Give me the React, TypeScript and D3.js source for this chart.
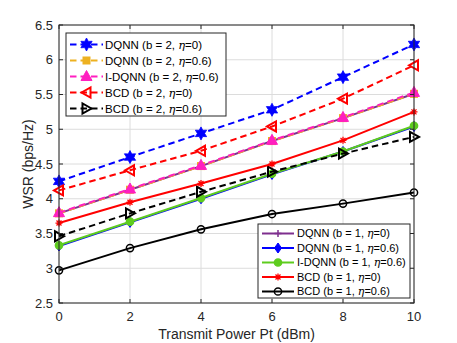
import React from "react";
import * as d3 from "d3";

const xVals = [0, 2, 4, 6, 8, 10];
const dqnnB2E0 = [4.25, 4.6, 4.94, 5.28, 5.75, 6.22];
const dqnnB2E06 = [3.79, 4.13, 4.47, 4.83, 5.16, 5.51];
const idqnnB2E06 = [3.8, 4.14, 4.48, 4.84, 5.17, 5.53];
const bcdB2E0 = [4.12, 4.41, 4.69, 5.04, 5.44, 5.92];
const bcdB2E06 = [3.46, 3.79, 4.1, 4.39, 4.65, 4.89];
const dqnnB1E0 = [3.79, 4.13, 4.47, 4.83, 5.16, 5.51];
const dqnnB1E06 = [3.32, 3.66, 4.0, 4.35, 4.68, 5.04];
const idqnnB1E06 = [3.33, 3.67, 4.01, 4.36, 4.68, 5.05];
const bcdB1E0 = [3.65, 3.95, 4.22, 4.5, 4.84, 5.25];
const bcdB1E06 = [2.97, 3.29, 3.56, 3.78, 3.93, 4.09];

const xTicks = [0, 2, 4, 6, 8, 10];
const yTicks = [2.5, 3, 3.5, 4, 4.5, 5, 5.5, 6, 6.5];

type Marker = "hex" | "square" | "triUp" | "triLeft" | "triRight" | "plus" | "diamond" | "circle" | "asterisk";

interface Series {
  name: string;
  b: number;
  eta: string;
  values: number[];
  color: string;
  dashed: boolean;
  marker: Marker;
  fill: boolean;
}

const legend1: Series[] = [
  { name: "DQNN", b: 2, eta: "0", values: dqnnB2E0, color: "#0000ff", dashed: true, marker: "hex", fill: true },
  { name: "DQNN", b: 2, eta: "0.6", values: dqnnB2E06, color: "#edb120", dashed: true, marker: "square", fill: true },
  { name: "I-DQNN", b: 2, eta: "0.6", values: idqnnB2E06, color: "#ff1fc0", dashed: true, marker: "triUp", fill: true },
  { name: "BCD", b: 2, eta: "0", values: bcdB2E0, color: "#ff0000", dashed: true, marker: "triLeft", fill: false },
  { name: "BCD", b: 2, eta: "0.6", values: bcdB2E06, color: "#000000", dashed: true, marker: "triRight", fill: false },
];
const legend2: Series[] = [
  { name: "DQNN", b: 1, eta: "0", values: dqnnB1E0, color: "#7e2f8e", dashed: false, marker: "plus", fill: false },
  { name: "DQNN", b: 1, eta: "0.6", values: dqnnB1E06, color: "#0000ff", dashed: false, marker: "diamond", fill: true },
  { name: "I-DQNN", b: 1, eta: "0.6", values: idqnnB1E06, color: "#5ecc1e", dashed: false, marker: "circle", fill: true },
  { name: "BCD", b: 1, eta: "0", values: bcdB1E0, color: "#ff0000", dashed: false, marker: "asterisk", fill: false },
  { name: "BCD", b: 1, eta: "0.6", values: bcdB1E06, color: "#000000", dashed: false, marker: "circle", fill: false },
];

const W = 457, H = 343;
const L = 59, R = 414, T = 25, B = 303;
const x = d3.scaleLinear().domain([0, 10]).range([L, R]);
const y = d3.scaleLinear().domain([2.5, 6.5]).range([B, T]);
const font = "Liberation Sans, Arial, Helvetica, sans-serif";

function hexPath(r: number) {
  const pts: string[] = [];
  for (let i = 0; i < 12; i++) {
    const a = (Math.PI / 6) * i - Math.PI / 2;
    const rr = i % 2 === 0 ? r : r * 0.55;
    pts.push(`${(rr * Math.cos(a)).toFixed(2)},${(rr * Math.sin(a)).toFixed(2)}`);
  }
  return "M" + pts.join("L") + "Z";
}

function MarkerShape({ s, cx, cy }: { s: Series; cx: number; cy: number }) {
  const c = s.color;
  const common = { transform: `translate(${cx},${cy})` };
  switch (s.marker) {
    case "hex":
      return <path {...common} d={hexPath(6.5)} fill={c} stroke={c} strokeWidth={0.8} />;
    case "square":
      return <rect {...common} x={-3.5} y={-3.5} width={7} height={7} fill={c} stroke={c} />;
    case "triUp":
      return <path {...common} d="M0,-6L5.5,4L-5.5,4Z" fill={c} stroke={c} strokeWidth={1} />;
    case "triLeft":
      return <path {...common} d="M-5,0L4,-5L4,5Z" fill="none" stroke={c} strokeWidth={2} />;
    case "triRight":
      return <path {...common} d="M5,0L-4,-5L-4,5Z" fill="none" stroke={c} strokeWidth={2} />;
    case "plus":
      return <path {...common} d="M-3.5,0H3.5M0,-3.5V3.5" stroke={c} strokeWidth={1.5} />;
    case "diamond":
      return <path {...common} d="M0,-5L3.5,0L0,5L-3.5,0Z" fill={c} stroke={c} strokeWidth={1} />;
    case "circle":
      return <circle {...common} r={3.6} fill={s.fill ? c : "none"} stroke={c} strokeWidth={1.5} />;
    case "asterisk":
      return <path {...common} d="M-3.5,0H3.5M0,-3.5V3.5M-2.5,-2.5L2.5,2.5M-2.5,2.5L2.5,-2.5" stroke={c} strokeWidth={1.3} />;
  }
  return null;
}

const line = d3.line<[number, number]>().x(d => x(d[0])).y(d => y(d[1]));

function SeriesLine({ s }: { s: Series }) {
  const pts = xVals.map((v, i) => [v, s.values[i]] as [number, number]);
  return (
    <g>
      <path d={line(pts) || ""} fill="none" stroke={s.color} strokeWidth={2}
        strokeDasharray={s.dashed ? "6.5,4" : undefined} />
      {pts.map((p, i) => <MarkerShape key={i} s={s} cx={x(p[0])} cy={y(p[1])} />)}
    </g>
  );
}

function LegendLabel({ s, x0, yy, fs }: { s: Series; x0: number; yy: number; fs: number }) {
  return (
    <text x={x0} y={yy} dy="0.35em" fontSize={fs} fontFamily={font} fill="#000">
      {`${s.name} (b = ${s.b}, `}
      <tspan fontStyle="italic" fontFamily="DejaVu Serif, serif">η</tspan>
      {`=${s.eta})`}
    </text>
  );
}

export default function App() {
  const drawOrder = [legend2[0], legend1[1], legend1[2], legend2[1], legend2[2], legend1[0], legend1[3], legend1[4], legend2[3], legend2[4]];
  return (
    <svg width={W} height={H} style={{ position: "fixed", left: 0, top: 0, background: "#fff" }}>
      <rect x={0} y={0} width={W} height={H} fill="#fff" />
      {/* grid */}
      {xTicks.map(t => (
        <line key={"gx" + t} x1={x(t)} x2={x(t)} y1={T} y2={B} stroke="#dcdcdc" strokeWidth={1} />
      ))}
      {yTicks.map(t => (
        <line key={"gy" + t} x1={L} x2={R} y1={y(t)} y2={y(t)} stroke="#dcdcdc" strokeWidth={1} />
      ))}
      {/* series */}
      {drawOrder.map((s, i) => <SeriesLine key={i} s={s} />)}
      {/* axes box */}
      <rect x={L} y={T} width={R - L} height={B - T} fill="none" stroke="#262626" strokeWidth={1} />
      {xTicks.map(t => (
        <g key={"tx" + t}>
          <line x1={x(t)} x2={x(t)} y1={B} y2={B - 4} stroke="#262626" />
          <line x1={x(t)} x2={x(t)} y1={T} y2={T + 4} stroke="#262626" />
          <text x={x(t)} y={B + 18} textAnchor="middle" fontSize={13} fontFamily={font} fill="#262626">{t}</text>
        </g>
      ))}
      {yTicks.map(t => (
        <g key={"ty" + t}>
          <line x1={L} x2={L + 4} y1={y(t)} y2={y(t)} stroke="#262626" />
          <line x1={R} x2={R - 4} y1={y(t)} y2={y(t)} stroke="#262626" />
          <text x={L - 6} y={y(t)} dy="0.35em" textAnchor="end" fontSize={13} fontFamily={font} fill="#262626">{t}</text>
        </g>
      ))}
      <text x={(L + R) / 2} y={339} textAnchor="middle" fontSize={14} fontFamily={font} fill="#262626">Transmit Power Pt (dBm)</text>
      <text transform={`translate(33,${(T + B) / 2}) rotate(-90)`} textAnchor="middle" fontSize={14} fontFamily={font} fill="#262626">WSR (bps/Hz)</text>
      {/* legend 1 */}
      <rect x={66} y={33} width={160} height={83} fill="#fff" stroke="#262626" strokeWidth={1} />
      {legend1.map((s, i) => {
        const yy = 44.5 + i * 16;
        return (
          <g key={"l1" + i}>
            <line x1={70} x2={103} y1={yy} y2={yy} stroke={s.color} strokeWidth={2} strokeDasharray="6.5,4" />
            <MarkerShape s={s} cx={86.5} cy={yy} />
            <LegendLabel s={s} x0={105} yy={yy} fs={11.5} />
          </g>
        );
      })}
      {/* legend 2 */}
      <rect x={258} y={224} width={152} height={74} fill="#fff" stroke="#262626" strokeWidth={1} />
      {legend2.map((s, i) => {
        const yy = 233.5 + i * 14.5;
        return (
          <g key={"l2" + i}>
            <line x1={262} x2={294} y1={yy} y2={yy} stroke={s.color} strokeWidth={2} />
            <MarkerShape s={s} cx={278} cy={yy} />
            <LegendLabel s={s} x0={297} yy={yy} fs={11} />
          </g>
        );
      })}
    </svg>
  );
}
